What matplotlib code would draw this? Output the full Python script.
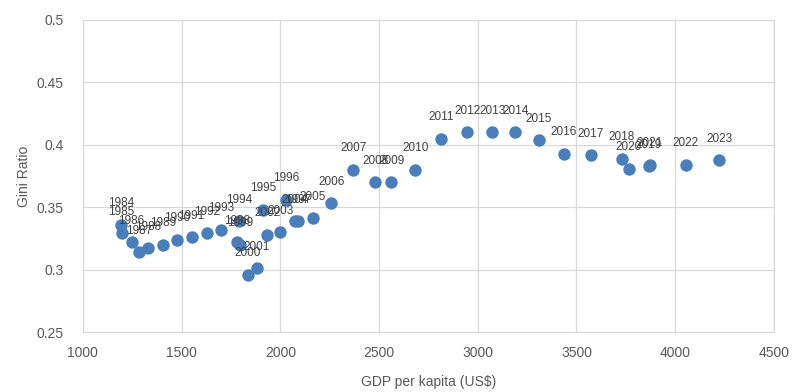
import matplotlib.pyplot as plt

# Indonesia: GDP per capita (constant US$) vs Gini ratio, 1984-2023
years = list(range(1984, 2024))
gdp = [1193, 1196, 1247, 1284, 1330, 1404, 1477, 1551, 1627, 1698,
       1791, 1913, 2030, 2091, 1781, 1796, 1835, 1881, 1933, 1999,
       2075, 2165, 2258, 2370, 2481, 2562, 2684, 2816, 2946, 3073,
       3191, 3310, 3437, 3574, 3729, 3866, 3766, 3870, 4054, 4222]
gini = [0.336, 0.329, 0.322, 0.314, 0.317, 0.320, 0.324, 0.326, 0.329, 0.332,
        0.339, 0.348, 0.356, 0.339, 0.322, 0.320, 0.296, 0.301, 0.328, 0.330,
        0.339, 0.341, 0.353, 0.380, 0.370, 0.370, 0.380, 0.405, 0.410, 0.410,
        0.410, 0.404, 0.393, 0.392, 0.389, 0.383, 0.381, 0.384, 0.384, 0.388]

xticks = [1000, 1500, 2000, 2500, 3000, 3500, 4000, 4500]
yticks = [0.25, 0.3, 0.35, 0.4, 0.45, 0.5]

plt.rcParams['font.family'] = ['Liberation Sans Narrow', 'Liberation Sans', 'DejaVu Sans']

fig = plt.figure(figsize=(7.97, 3.92), dpi=100)
ax = fig.add_axes([0.104, 0.153, 0.867, 0.796])

ax.scatter(gdp, gini, s=80, color='#4a7ebb', zorder=3, linewidths=0)

# year labels sit above each point
for yr, x, y in zip(years, gdp, gini):
    ax.annotate(str(yr), (x, y), xytext=(0, 11), textcoords='offset points',
                ha='center', va='bottom', fontsize=8.5, color='#404040', zorder=4)

ax.set_xlim(1000, 4500)
ax.set_ylim(0.25, 0.5)
ax.set_xticks(xticks)
ax.set_yticks(yticks)
ax.set_xticklabels([str(t) for t in xticks])
ax.set_yticklabels(['0.25', '0.3', '0.35', '0.4', '0.45', '0.5'])

ax.grid(True, color='#d9d9d9', linewidth=0.9)
ax.set_axisbelow(True)
for s in ax.spines.values():
    s.set_color('#d9d9d9')
ax.tick_params(length=0, labelsize=10, colors='#595959')
ax.tick_params(axis='y', pad=14)
ax.tick_params(axis='x', pad=10)

ax.set_xlabel('GDP per kapita (US$)', fontsize=10, color='#595959', labelpad=11)
ax.set_ylabel('Gini Ratio', fontsize=10, color='#595959', labelpad=4)

fig.savefig('out.png', dpi=100)
